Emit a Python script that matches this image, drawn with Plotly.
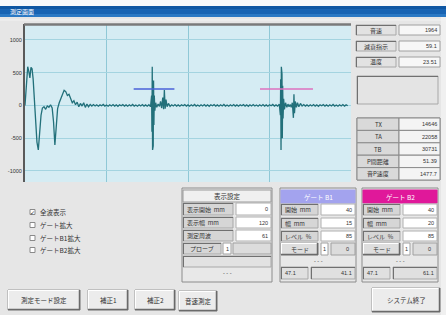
import plotly.graph_objects as go

W, H = 446, 315
JP = "Noto Sans CJK JP"
LAT = "Liberation Sans"

# ---------------- data ----------------
wave_x = [0.0, 0.6, 1.0, 1.4, 1.8, 2.2, 2.6, 3.0, 3.4, 3.8, 4.4, 4.9, 5.4, 5.9, 6.4, 7.0, 7.6, 8.2, 8.8, 9.4,
          10.0, 10.5, 11.0, 11.5, 12.0, 12.6, 13.2, 13.8, 14.4, 15.0, 15.6, 16.2, 16.8, 17.4, 18.0, 18.6, 19.2,
          19.8, 20.4, 21.0, 21.6, 22.2, 22.8, 23.4, 24.0,
          24.6, 25.2, 25.8, 26.4, 27.0, 27.6, 28.2, 28.8, 29.4, 30.0, 30.6, 31.2, 31.8, 32.4, 33.0, 33.6, 34.2,
          34.8, 35.4, 36.0, 36.6, 37.2, 37.8, 38.4, 39.0, 39.6, 40.2, 40.8, 41.4, 42.0, 42.6, 43.2, 43.8, 44.4,
          45.0, 45.6, 46.2,
          46.6, 46.72, 46.84, 46.96, 47.08, 47.2, 47.32, 47.45, 47.6, 47.8, 48.1, 48.5, 49.0, 49.5, 49.9, 50.3,
          50.7, 51.0, 51.3, 51.6, 51.9, 52.3, 52.8, 53.4,
          54.0, 54.6, 55.2, 55.8, 56.4, 57.0, 57.6, 58.2, 58.8, 59.4, 60.0, 60.6, 61.2, 61.8, 62.4, 63.0, 63.6,
          64.2, 64.8, 65.4, 66.0, 66.6, 67.2, 67.8, 68.4, 69.0, 69.6, 70.2, 70.8, 71.4, 72.0, 72.6, 73.2, 73.8,
          74.4, 75.0, 75.6, 76.2, 76.8, 77.4, 78.0, 78.6, 79.2, 79.8, 80.4, 81.0, 81.6, 82.2, 82.8, 83.4, 84.0,
          84.6, 85.2, 85.8, 86.4, 87.0, 87.6, 88.2, 88.8, 89.4, 90.0, 90.6, 91.2, 91.8, 92.4, 93.0, 93.6,
          94.0, 94.12, 94.24, 94.36, 94.48, 94.6, 94.72, 94.85, 95.0, 95.2, 95.5, 95.9, 96.4, 96.8, 97.2, 97.6,
          98.0, 98.4, 98.8, 99.0, 99.2, 99.5, 99.9, 100.3, 100.8, 101.4, 102.0,
          102.6, 103.2, 103.8, 104.4, 105.0, 105.6, 106.2, 106.8, 107.4, 108.0, 108.6, 109.2, 109.8, 110.4,
          111.0, 111.6, 112.2, 112.8, 113.4, 114.0, 114.6, 115.2, 115.8, 116.4, 117.0, 117.6, 118.2, 118.8]
wave_y = [0, 300, 590, 520, 420, 580, 560, 400, 100, -250, -560, -680, -420, -150, -40, -20, -60, -10, -30, 10,
          -40, -250, -605, -300, -50, 40, 110, 180, 230, 210, 150, 170, 90, 40, 70, 10, 50,
          -20, 30, -10, 40, -30, 20, -20, 15,
          -10, 12, -8, 10, -12, 8, -6, 14, -10, 6, -12, 10, -8, 12, -10, 8, -14,
          10, -6, 12, -10, 8, -12, 10, -8, 14, -10, 6, -12, 10, -8, 12, -10, 8,
          -12, 10, -20,
          150, -400, 590, -680, 520, -620, 380, -300, 150, -80, 40, -30, 20, -15, 60, -40,
          120, -60, 235, -50, 90, -20, 30, -15,
          10, -8, 12, -10, 8, -12, 10, -6, 12, -10, 8, -12, 10, -8, 14, -10, 6,
          -12, 10, -8, 12, -10, 8, -14, 10, -6, 12, -10, 8, -12, 10, -8, 14, -10,
          6, -12, 10, -8, 12, -10, 8, -12, 10, -6, 12, -10, 8, -14, 10, -8, 12,
          -10, 6, -12, 10, -8, 12, -10, 8, -12, 10, -6, 14, -10, 8, -12, 20,
          -150, 400, -680, 590, -640, 480, -500, 300, -200, 100, -60, 40, -30, 20, -20, 15,
          -30, 40, -190, 170, -120, 60, -30, 40, -20, 30, -10,
          12, -10, 8, -12, 10, -8, 12, -10, 8, -14, 10, -6, 12, -10,
          8, -12, 10, -8, 14, -10, 6, -12, 10, -8, 12, -10, 8, -6]

gate_b1_x = [40, 55]
gate_b1_level = [250, 250]
gate_b2_x = [86.5, 106]
gate_b2_level = [250, 250]

y_tick_vals = [1000, 500, 0, -500, -1000]
y_tick_text = ["1000", "500", "0", "-500", "-1000"]
x_grid_vals = [30, 60, 90]
x_range = [0, 120]
y_range = [-1168, 1241]

title_text = "測定画面"
top_labels = ["音速", "減衰指示", "温度"]
top_values = ["1964", "59.1", "23.51"]
result_labels = ["TX", "TA", "TB", "P間距離", "音P速度"]
result_values = ["14646", "22058", "30731", "51.39", "1477.7"]
disp_header = "表示設定"
disp_labels = ["表示開始  mm", "表示幅  mm", "測定周波"]
disp_values = ["0", "120", "61"]
probe_label = "プローブ"
probe_value = "1"
gate_headers = ["ゲート B1", "ゲート B2"]
gate_labels = ["開始  mm", "幅  mm", "レベル  %"]
gate_b1_values = ["40", "15", "85"]
gate_b2_values = ["40", "20", "85"]
mode_label = "モード"
gate_mode_values = [["1", "0"], ["1", "0"]]
gate_bottom_values = [["47.1", "41.1"], ["47.1", "61.1"]]
check_labels = ["全波表示", "ゲート拡大", "ゲートB1拡大", "ゲートB2拡大"]
check_states = [True, False, False, False]
button_labels = ["測定モード設定", "補正1", "補正2", "音速測定", "システム終了"]

# ---------------- helpers (pixel -> paper) ----------------
shapes = []
anns = []


def rect(x0, y0, x1, y1, fill, line=None, lw=1):
    shapes.append(dict(type="rect", xref="paper", yref="paper",
                       x0=x0 / W, x1=x1 / W, y0=1 - y1 / H, y1=1 - y0 / H,
                       fillcolor=fill, line=dict(color=line if line else fill, width=lw if line else 0)))


def hline(x0, x1, y, color, lw=1):
    shapes.append(dict(type="line", xref="paper", yref="paper", x0=x0 / W, x1=x1 / W,
                       y0=1 - y / H, y1=1 - y / H, line=dict(color=color, width=lw)))


def vline(x, y0, y1, color, lw=1):
    shapes.append(dict(type="line", xref="paper", yref="paper", x0=x / W, x1=x / W,
                       y0=1 - y0 / H, y1=1 - y1 / H, line=dict(color=color, width=lw)))


def txt(x, y, s, size=6.5, color="#333333", anchor="left", family=JP):
    anns.append(dict(x=x / W, y=1 - y / H, xref="paper", yref="paper", text=s, showarrow=False,
                     xanchor=anchor, yanchor="middle", borderpad=0,
                     font=dict(size=size, color=color, family=family)))


def sunken(x0, y0, x1, y1, fill):
    rect(x0, y0, x1, y1, fill, "#a8a8a8", 1)
    hline(x0, x1, y0 + 0.5, "#707070", 1)
    vline(x0 + 0.5, y0, y1, "#707070", 1)


def raised(x0, y0, x1, y1, fill="#ececec"):
    rect(x0, y0, x1, y1, fill, "#9a9a9a", 1)
    hline(x0, x1, y0 + 0.5, "#ffffff", 1)
    vline(x0 + 0.5, y0, y1, "#ffffff", 1)
    hline(x0, x1, y1 - 0.5, "#6a6a6a", 1.5)
    vline(x1 - 0.5, y0, y1, "#6a6a6a", 1.5)


# ---------------- window chrome ----------------
rect(0, 0, W, 6, "#f6f8fb")
rect(0, 6, W, 17, "#1763b3")
rect(0, 6, W, 9, "#0d56a3")
rect(0, 14, W, 17, "#2a78c4")
txt(9, 11.5, title_text, size=6, color="#ffffff")
rect(441, 17, W, H, "#f0f0f0")
hline(0, W, 20, "#f2f2f2", 1)

# plot frame (top bar)
hline(24, 351, 24.5, "#7a7a7a", 2.5)

# ---------------- right info panels ----------------
row_tops = [25, 41, 57]
for i, (lab, val) in enumerate(zip(top_labels, top_values)):
    y0 = row_tops[i]
    sunken(356, y0, 396, y0 + 10, "#e2e2e2")
    txt(376, y0 + 5, lab, size=6, anchor="center")
    rect(399, y0, 440, y0 + 10, "#f7f7f7", "#a0a0a0", 1)
    txt(438, y0 + 5, val, size=5.5, anchor="right", family=LAT)

sunken(357, 76, 438, 104, "#e4e4e4")

res_top = 118
res_h = 12.4
rect(357, res_top, 440, res_top + res_h * 5, "#f2f2f2", "#8a8a8a", 1)
for i, (lab, val) in enumerate(zip(result_labels, result_values)):
    y0 = res_top + res_h * i
    rect(357, y0, 399, y0 + res_h, "#d9d9d9", "#8a8a8a", 1)
    rect(399, y0, 440, y0 + res_h, "#f4f4f4", "#8a8a8a", 1)
    txt(378, y0 + res_h / 2, lab, size=6, anchor="center")
    txt(438, y0 + res_h / 2, val, size=5.5, anchor="right", family=LAT)

# ---------------- check boxes ----------------
check_rows = [212, 225, 238, 250]
for lab, st, y in zip(check_labels, check_states, check_rows):
    rect(30, y - 2.5, 35, y + 2.5, "#ffffff", "#8a8a8a", 1)
    if st:
        txt(32.5, y, "✓", size=6, color="#333333", anchor="center", family="DejaVu Sans")
    txt(39, y, lab, size=6.5)

# ---------------- display settings panel ----------------
rect(182, 188, 272, 282, "#e8e8e8", "#8c8c8c", 1)
rect(183, 190, 271, 202, "#f0f0f0", "#9a9a9a", 1)
txt(227, 196, disp_header, size=6.5, anchor="center")
disp_rows = [(203, 215), (217, 228), (230, 241)]
for (y0, y1), lab, val in zip(disp_rows, disp_labels, disp_values):
    sunken(183, y0, 233, y1, "#d6d6d6")
    txt(186, (y0 + y1) / 2, lab, size=6)
    rect(236, y0, 271, y1, "#ffffff", "#b0b0b0", 1)
    txt(269, (y0 + y1) / 2, val, size=5.5, anchor="right", family=LAT)
sunken(183, 243, 221, 254, "#d6d6d6")
txt(202, 248.5, probe_label, size=6, anchor="center")
rect(223, 243, 231, 254, "#ffffff", "#a0a0a0", 1)
txt(227, 248.5, probe_value, size=5.5, anchor="center", family=LAT)
rect(233, 243, 271, 254, "#dcdcdc", "#a0a0a0", 1)
sunken(183, 256, 271, 267, "#e2e2e2")
txt(227, 273, "- - -", size=5.5, anchor="center", family=LAT)

# ---------------- gate panels ----------------
gate_x = [(280, 356), (362, 438)]
gate_colors = ["#a3a3ee", "#e0189a"]
gate_vals = [gate_b1_values, gate_b2_values]
for g in range(2):
    gx0, gx1 = gate_x[g]
    lx1 = gx0 + 38
    vx0 = gx0 + 41
    rect(gx0, 188, gx1, 282, "#e8e8e8", "#8c8c8c", 1)
    rect(gx0 + 1, 190, gx1 - 1, 203, gate_colors[g], gate_colors[g], 1)
    txt((gx0 + gx1) / 2, 196.5, gate_headers[g], size=6.5, color="#ffffff", anchor="center")
    for (y0, y1), lab, val in zip(disp_rows, gate_labels, gate_vals[g]):
        sunken(gx0 + 1, y0 + 1, lx1, y1, "#d6d6d6")
        txt(gx0 + 4, (y0 + y1) / 2 + 0.5, lab, size=6)
        rect(vx0, y0 + 1, gx1 - 1, y1, "#ffffff", "#b0b0b0", 1)
        txt(gx1 - 3, (y0 + y1) / 2 + 0.5, val, size=5.5, anchor="right", family=LAT)
    raised(gx0 + 1, 243, lx1, 255, "#dedede")
    txt((gx0 + 1 + lx1) / 2, 249, mode_label, size=6, anchor="center")
    rect(vx0, 243, vx0 + 7, 255, "#ffffff", "#a0a0a0", 1)
    txt(vx0 + 3.5, 249, gate_mode_values[g][0], size=5.5, anchor="center", family=LAT)
    rect(vx0 + 10, 243, gx1 - 1, 255, "#dcdcdc", "#a0a0a0", 1)
    txt(gx1 - 6, 249, gate_mode_values[g][1], size=5.5, anchor="right", family=LAT)
    txt((gx0 + gx1) / 2, 260.5, "- - -", size=5.5, anchor="center", family=LAT)
    sunken(gx0 + 1, 267, gx0 + 28, 279, "#e0e0e0")
    txt(gx0 + 4, 273, gate_bottom_values[g][0], size=5.5, family=LAT)
    sunken(gx0 + 31, 267, gx1 - 1, 279, "#e0e0e0")
    txt(gx1 - 3, 273, gate_bottom_values[g][1], size=5.5, anchor="right", family=LAT)

# ---------------- buttons ----------------
button_boxes = [(8, 290, 80, 310), (88, 290, 128, 310), (135, 290, 175, 310),
                (179, 291, 217, 311), (372, 288, 440, 312)]
for lab, (x0, y0, x1, y1) in zip(button_labels, button_boxes):
    raised(x0, y0, x1, y1)
    txt((x0 + x1) / 2, (y0 + y1) / 2, lab, size=6.5, anchor="center")

# ---------------- figure ----------------
fig = go.Figure()
fig.add_trace(go.Scatter(x=wave_x, y=wave_y, mode="lines",
                         line=dict(color="#22707a", width=1.3), hoverinfo="skip"))
fig.add_trace(go.Scatter(x=gate_b1_x, y=gate_b1_level, mode="lines",
                         line=dict(color="#4a62d8", width=1.6), hoverinfo="skip"))
fig.add_trace(go.Scatter(x=gate_b2_x, y=gate_b2_level, mode="lines",
                         line=dict(color="#dd72bf", width=1.6), hoverinfo="skip"))

fig.update_layout(
    width=W, height=H,
    margin=dict(l=0, r=0, t=0, b=0, pad=0),
    paper_bgcolor="#e6e6e6",
    plot_bgcolor="#d5ecf3",
    showlegend=False,
    shapes=shapes,
    annotations=anns,
    xaxis=dict(domain=[25 / W, 351 / W], range=x_range, tickvals=x_grid_vals, showticklabels=False,
               showgrid=True, gridcolor="#8fc8d6", gridwidth=1, zeroline=False, showline=False,
               ticks="", automargin=False, fixedrange=True),
    yaxis=dict(domain=[1 - 182 / H, 1 - 24 / H], range=y_range, tickvals=y_tick_vals,
               ticktext=y_tick_text, showgrid=True, gridcolor="#a4d4e0", gridwidth=1,
               zeroline=False, showline=True, linecolor="#5a5a5a", linewidth=2, ticks="",
               tickfont=dict(size=5.5, color="#333333", family=LAT), automargin=False,
               fixedrange=True),
)

fig.write_html("out.html", config={"displayModeBar": False},
               post_script="document.body.style.margin='0';document.body.style.overflow='hidden';")
